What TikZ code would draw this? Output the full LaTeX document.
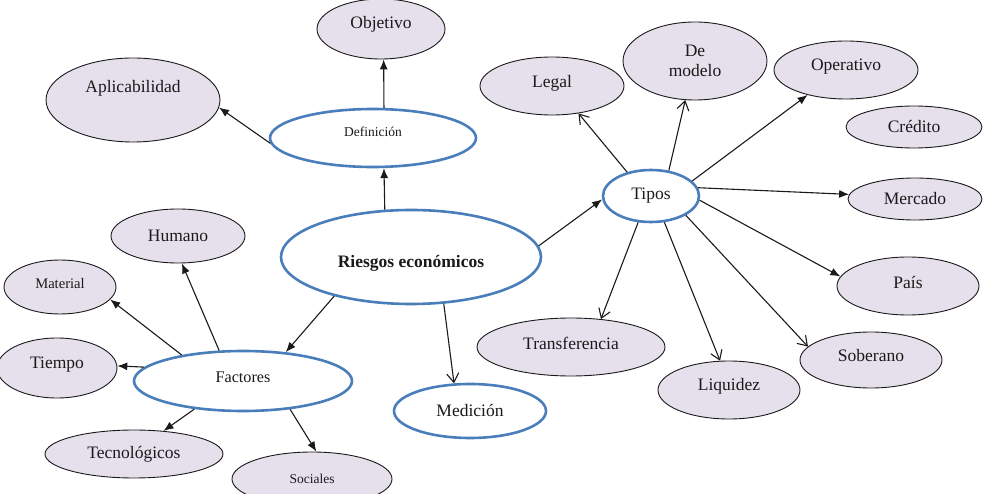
\documentclass[tikz,border=0pt]{standalone}
\usepackage{fontspec}
\setmainfont{Liberation Serif}
\usepackage{xcolor}
\usetikzlibrary{arrows.meta,shapes.geometric}
\definecolor{bluering}{HTML}{4A7EBB}
\definecolor{lilacfill}{HTML}{E5E0EC}
\definecolor{inkline}{HTML}{1A1A1A}
\tikzset{every node/.append style={font=\fontsize{17.5}{20}\selectfont},
  hub/.style={ellipse,draw=bluering,line width=2.6pt,fill=white,inner sep=0pt},
  leaf/.style={ellipse,draw=inkline,line width=0.9pt,fill=lilacfill,inner sep=0pt},
  dims/.style 2 args={minimum width=#1,minimum height=#2},
  lift/.style={text depth=#1},
  sink/.style={text height=#1},
  fillarrow/.style={-{Latex[length=10pt,width=8pt]}},
  openarrow/.style={-{Straight Barb[length=9pt,width=12pt]}}}

\begin{document}
\begin{tikzpicture}[x=1pt,y=-1pt,line width=1.1pt,inkline]
\useasboundingbox (0,0) rectangle (989,494);
\node[hub,dims={260pt}{94pt},font=\fontsize{17.5}{20}\selectfont\bfseries,sink=24pt] (riesgos) at (411,257) {Riesgos económicos\hspace{10pt}};
\node[hub,dims={206pt}{58pt},font=\fontsize{13.5}{15}\selectfont,lift=12pt] (def) at (373,138) {Definición};
\node[leaf,dims={128pt}{60pt},lift=14pt] (obj) at (381,29) {Objetivo};
\node[leaf,dims={174pt}{84pt},lift=28pt] (aplic) at (133,100) {Aplicabilidad};
\node[hub,dims={218pt}{60pt},font=\fontsize{16.2}{18}\selectfont,lift=8pt] (factores) at (243,381) {Factores};
\node[leaf,dims={134pt}{54pt}] (humano) at (178,236) {Humano};
\node[leaf,dims={112pt}{54pt},font=\fontsize{14.6}{16}\selectfont,lift=8pt] (material) at (60,287) {Material};
\node[leaf,dims={120pt}{60pt},lift=10pt] (tiempo) at (57,368) {Tiempo\hspace{32pt}};
\node[leaf,dims={178pt}{48pt}] (tecno) at (134,454) {Tecnológicos};
\node[leaf,dims={160pt}{54pt},font=\fontsize{13.5}{15}\selectfont] (sociales) at (312,479) {Sociales};
\node[hub,dims={152pt}{54pt}] (medicion) at (470,411) {Medición\hspace{14pt}};
\node[hub,dims={96pt}{52pt}] (tipos) at (651,196) {Tipos};
\node[leaf,dims={144pt}{58pt},lift=10pt] (legal) at (552,86) {Legal\hspace{38pt}};
\node[leaf,dims={144pt}{78pt},align=center] (modelo) at (695,61) {De\\modelo};
\node[leaf,dims={144pt}{58pt},lift=10pt] (operativo) at (846,70) {Operativo};
\node[leaf,dims={136pt}{42pt}] (credito) at (914,127) {Crédito\hspace{20pt}};
\node[leaf,dims={134pt}{42pt}] (mercado) at (915,199) {Mercado};
\node[leaf,dims={142pt}{58pt},lift=8pt] (pais) at (908,286) {País};
\node[leaf,dims={142pt}{56pt},lift=10pt] (soberano) at (871,360) {Soberano\hspace{8pt}};
\node[leaf,dims={142pt}{58pt},lift=12pt] (liquidez) at (729,390) {Liquidez\hspace{14pt}};
\node[leaf,dims={188pt}{58pt},lift=8pt] (transfer) at (571,347) {Transferencia\hspace{12pt}};
\draw[fillarrow] (riesgos.119) -- (def.-70);
\draw[fillarrow] (def.70) -- (obj.-85);
\draw[fillarrow] (def.183) -- (aplic.-5);
\draw[fillarrow] (riesgos.-153) -- (factores.34);
\draw[openarrow] (riesgos.-55) -- (medicion.120);
\draw[fillarrow] (riesgos.5) -- (tipos.184);
\draw[fillarrow] (factores.128) -- (humano.-82);
\draw[fillarrow] (factores.157) -- (material.-14);
\draw[fillarrow] (factores.172) -- (tiempo.2);
\draw[fillarrow] (factores.-150) -- (tecno.38);
\draw[fillarrow] (factores.-31) -- (sociales.81);
\draw[openarrow] (tipos.135) -- (legal.-46);
\draw[openarrow] (tipos.55) -- (modelo.-104);
\draw[fillarrow] (tipos.20) -- (operativo.-147);
\draw[fillarrow] (tipos.10) -- (mercado.176);
\draw[fillarrow] (tipos.-5) -- (pais.172);
\draw[openarrow] (tipos.-29) -- (soberano.168);
\draw[openarrow] (tipos.-63) -- (liquidez.107);
\draw[openarrow] (tipos.-116) -- (transfer.43);
\end{tikzpicture}
\end{document}
